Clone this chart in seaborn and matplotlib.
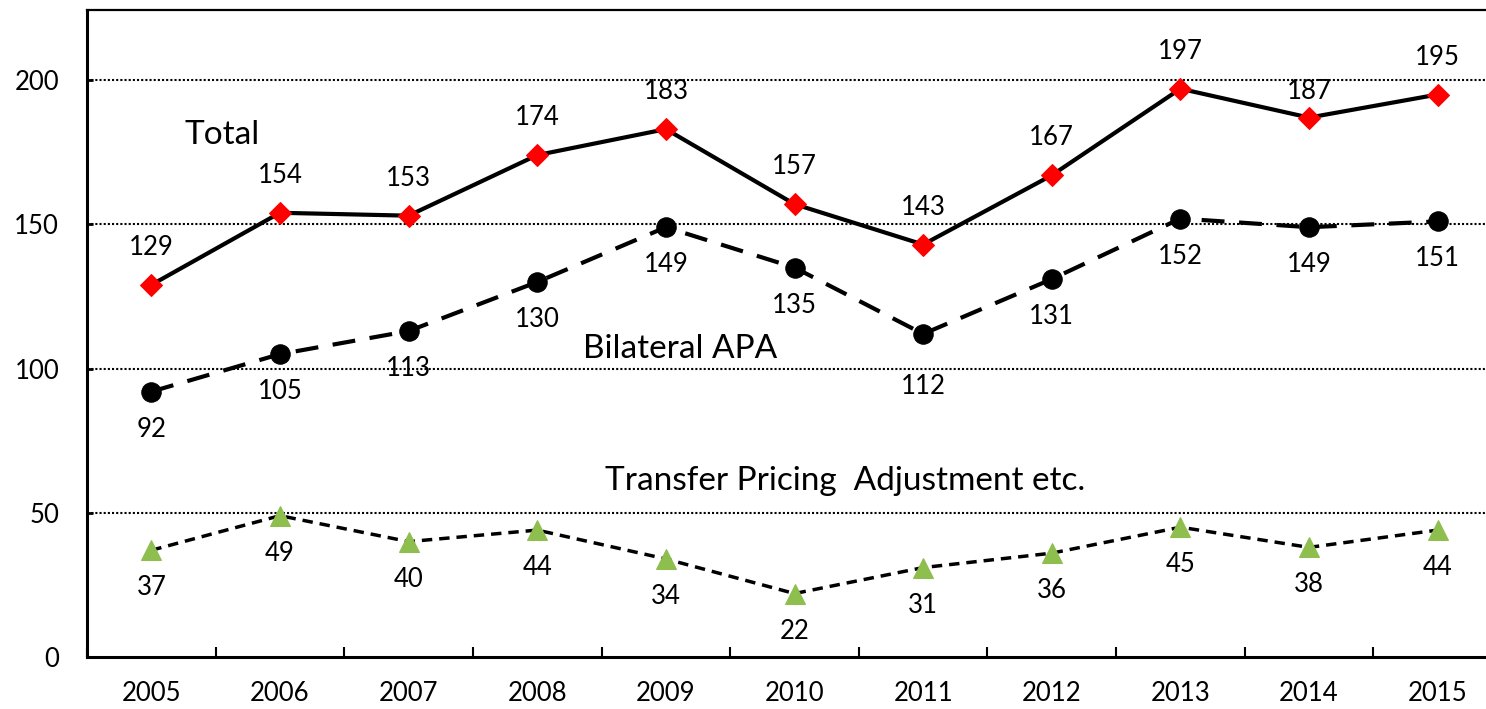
import matplotlib
matplotlib.use("Agg")
import matplotlib.pyplot as plt
import seaborn as sns
import pandas as pd
import numpy as np

years = ["2005", "2006", "2007", "2008", "2009", "2010", "2011", "2012", "2013", "2014", "2015"]
total = [129, 154, 153, 174, 183, 157, 143, 167, 197, 187, 195]
bilateral = [92, 105, 113, 130, 149, 135, 112, 131, 152, 149, 151]
transfer = [37, 49, 40, 44, 34, 22, 31, 36, 45, 38, 44]
yticks = [0, 50, 100, 150, 200]

sns.set_theme(style="white")
plt.rcParams["font.family"] = ["Lato", "DejaVu Sans"]
plt.rcParams["text.color"] = "black"
plt.rcParams["xtick.color"] = "black"
plt.rcParams["ytick.color"] = "black"
plt.rcParams["xtick.labelcolor"] = "black"
plt.rcParams["ytick.labelcolor"] = "black"

df = pd.DataFrame({"x": np.arange(len(years)), "year": years,
                   "Total": total, "Bilateral": bilateral, "Transfer": transfer})

fig = plt.figure(figsize=(14.86, 7.09), dpi=100)
ax = fig.add_axes([87/1486, 52/709, (1502-87)/1486, 647/709])

green = "#8DBE4E"

sns.lineplot(data=df, x="x", y="Total", ax=ax, color="black", lw=3,
             marker="D", markersize=11, markerfacecolor="red", markeredgecolor="red",
             zorder=3)
sns.lineplot(data=df, x="x", y="Bilateral", ax=ax, color="black", lw=3,
             linestyle=(0, (5.5, 3.5)), marker="o", markersize=14,
             markerfacecolor="black", markeredgecolor="black", zorder=3)
sns.lineplot(data=df, x="x", y="Transfer", ax=ax, color="black", lw=2.5,
             linestyle=(0, (3, 2)), marker="^", markersize=14,
             markerfacecolor=green, markeredgecolor=green, zorder=3)

fs = 18.5
for i in range(len(years)):
    ax.annotate(str(total[i]), (i, total[i]), xytext=(0, 27 if i != 9 else 19),
                textcoords="offset points", ha="center", va="center", fontsize=fs, color="black")
    ax.annotate(str(bilateral[i]), (i, bilateral[i]), xytext=(0, -38 if i == 6 else -27),
                textcoords="offset points", ha="center", va="center", fontsize=fs, color="black")
    ax.annotate(str(transfer[i]), (i, transfer[i]), xytext=(0, -27),
                textcoords="offset points", ha="center", va="center", fontsize=fs, color="black")

lfs = 24
ax.text((222-87)/1415, (657-135)/647, "Total", transform=ax.transAxes,
        ha="center", va="center", fontsize=lfs, color="black")
ax.text((680-87)/1415, (657-349)/647, "Bilateral APA", transform=ax.transAxes,
        ha="center", va="center", fontsize=lfs, color="black")
ax.text((845-87)/1415, (657-481)/647, "Transfer Pricing  Adjustment etc.", transform=ax.transAxes,
        ha="center", va="center", fontsize=lfs, color="black")

ax.set_xlim(-0.5, len(years) - 0.5)
ax.set_ylim(0, 224.3)
ax.set_xticks(np.arange(len(years)))
ax.set_xticklabels(years, fontsize=fs)
ax.set_xticks(np.arange(len(years) + 1) - 0.5, minor=True)
ax.tick_params(axis="x", which="major", length=0, pad=17)
ax.tick_params(axis="x", which="minor", direction="in", length=7, width=1.5, color="black", bottom=True)
ax.set_yticks(yticks)
ax.set_yticklabels([str(v) for v in yticks], fontsize=fs)
ax.tick_params(axis="y", direction="in", length=4, width=2, color="black", left=True, pad=20)
for v in yticks[1:]:
    ax.axhline(v, color="black", lw=1.5, linestyle=(0, (1, 1)), zorder=1)
ax.set_xlabel("")
ax.set_ylabel("")
for s in ["left", "bottom"]:
    ax.spines[s].set_linewidth(2.2)
    ax.spines[s].set_color("black")
ax.spines["top"].set_linewidth(1.6)
ax.spines["top"].set_color("black")
ax.spines["right"].set_visible(False)

fig.savefig("out.png", dpi=100)
